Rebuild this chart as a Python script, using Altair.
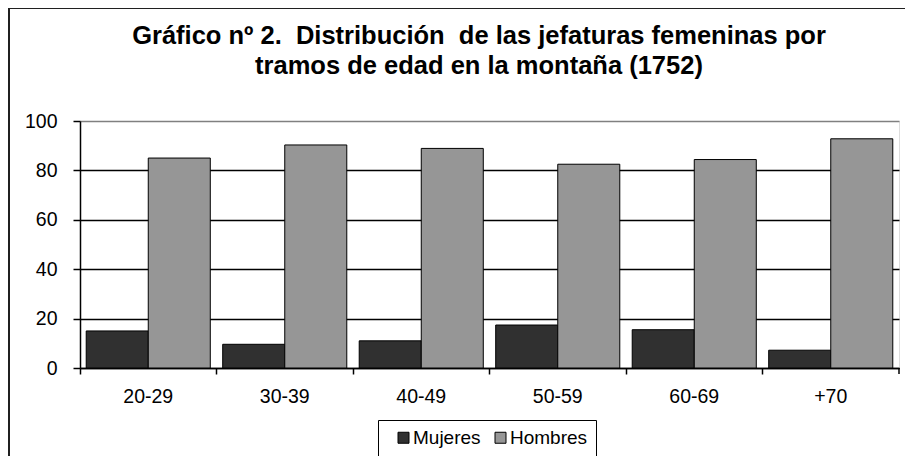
import altair as alt
import pandas as pd

tramos = ["20-29", "30-39", "40-49", "50-59", "60-69", "+70"]
mujeres = [15.0, 9.6, 11.0, 17.4, 15.5, 7.2]
hombres = [85.0, 90.3, 88.9, 82.5, 84.4, 92.8]
series = ["Mujeres", "Hombres"]
colores = ["#303030", "#969696"]
titulo_1 = "Gráfico nº 2.\u00a0 Distribución\u00a0 de las jefaturas femeninas por"
titulo_2 = "tramos de edad en la montaña (1752)"

rows = []
for t, m, h in zip(tramos, mujeres, hombres):
    rows.append({"tramo": t, "sexo": "Mujeres", "valor": m})
    rows.append({"tramo": t, "sexo": "Hombres", "valor": h})
df = pd.DataFrame(rows)
one = pd.DataFrame({"k": [0]})

W, H = 819, 247
FONT = "Liberation Sans"
FS = 19.5

bars = alt.Chart(df).mark_bar(stroke="black", strokeWidth=1).encode(
    x=alt.X("tramo:N", sort=tramos, title=None,
            scale=alt.Scale(paddingInner=0, paddingOuter=0),
            axis=alt.Axis(bandPosition=0, labelAngle=0, labelFontSize=FS,
                          labelColor="black", labelFont=FONT, tickSize=6,
                          tickColor="black", tickWidth=1.5, domainColor="black",
                          domainWidth=1.5, labelPadding=13, grid=False)),
    xOffset=alt.XOffset("sexo:N", sort=series,
                        scale=alt.Scale(paddingOuter=0.1, paddingInner=0)),
    y=alt.Y("valor:Q", title=None,
            scale=alt.Scale(domain=[0, 100], nice=False),
            axis=alt.Axis(values=[0, 20, 40, 60, 80, 100], labelFontSize=FS,
                          labelColor="black", labelFont=FONT, tickSize=7,
                          tickColor="black", tickWidth=1.5, domainColor="black",
                          domainWidth=1.5, labelPadding=16, grid=True,
                          gridColor=alt.condition("datum.value === 100",
                                                  alt.value("#808080"),
                                                  alt.value("black")),
                          gridWidth=1.5)),
    color=alt.Color("sexo:N", sort=series,
                    scale=alt.Scale(domain=series, range=colores),
                    legend=alt.Legend(title=None, orient="none", legendX=298,
                                      legendY=299, direction="horizontal",
                                      symbolType="square", symbolSize=121,
                                      symbolStrokeColor="black",
                                      symbolStrokeWidth=1, labelFontSize=19,
                                      labelFont=FONT, labelColor="black",
                                      labelOffset=0, columnPadding=2,
                                      padding=8, symbolOffset=8,
                                      strokeColor="black")),
)

end_tick = alt.Chart(one).mark_rule(color="black", strokeWidth=1.5).encode(
    x=alt.value(W), y=alt.value(H), y2=alt.value(H + 6))

frame = alt.Chart(one).mark_rect(fillOpacity=0, stroke="#202020",
                                 strokeWidth=2).encode(
    x=alt.value(-71), y=alt.value(-113), x2=alt.value(W + 40),
    y2=alt.value(H + 120))

t1 = alt.Chart(one).mark_text(font=FONT, fontSize=25.5, fontWeight="bold",
                              color="black", align="center",
                              baseline="alphabetic").encode(
    x=alt.value(399), y=alt.value(-77.5), text=alt.value(titulo_1))
t2 = alt.Chart(one).mark_text(font=FONT, fontSize=25.5, fontWeight="bold",
                              color="black", align="center",
                              baseline="alphabetic").encode(
    x=alt.value(399), y=alt.value(-47), text=alt.value(titulo_2))

chart = alt.layer(frame, bars, end_tick, t1, t2).properties(
    width=W, height=H,
    autosize=alt.AutoSizeParams(type="none"),
    padding={"left": 72, "top": 113, "right": 6, "bottom": 88},
).configure_view(stroke="#808080", strokeWidth=1.5).configure(
    background="white")

chart.save("out.html", embed_options={"renderer": "svg", "actions": False})
